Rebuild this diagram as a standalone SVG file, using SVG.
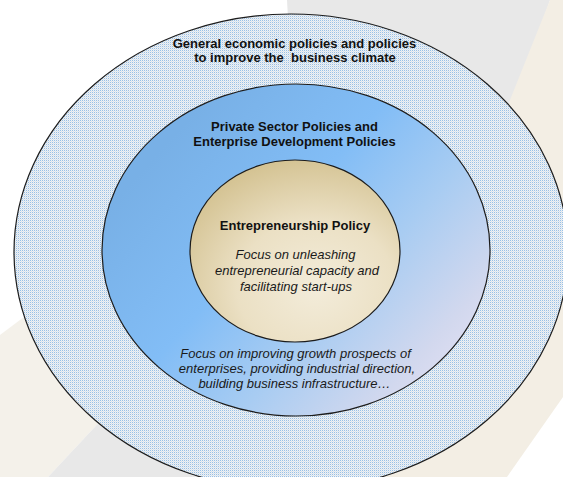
<svg xmlns="http://www.w3.org/2000/svg" width="563" height="477" viewBox="0 0 563 477">
  <defs>
    <style>
      .ring { stroke: #1c1c1c; stroke-width: 1.2; }
      .head { font-family: "Liberation Sans", Arial, sans-serif; font-size: 13px; font-weight: bold; fill: #111; text-anchor: middle; }
      .note { font-family: "Liberation Sans", Arial, sans-serif; font-size: 13px; font-style: italic; fill: #1a1a1a; text-anchor: middle; }
    </style>
    <!-- fine blue dot dither used by the outer ring -->
    <pattern id="grid" width="2" height="2" patternUnits="userSpaceOnUse">
      <rect width="2" height="2" fill="#eff1f3"/>
      <rect x="0" y="0" width="1" height="1" fill="#98c0e6"/>
      <rect x="1" y="1" width="1" height="1" fill="#d8e3ee"/>
    </pattern>
    <linearGradient id="blueFill" x1="0.15" y1="0.2" x2="1" y2="0.85">
      <stop offset="0" stop-color="#78b0e6"/>
      <stop offset="0.35" stop-color="#82bdf6"/>
      <stop offset="0.6" stop-color="#a8ccf2"/>
      <stop offset="0.85" stop-color="#d2d8ee"/>
      <stop offset="1" stop-color="#e6e2f4"/>
    </linearGradient>
    <radialGradient id="tanFill" cx="0.6" cy="0.7" r="0.75">
      <stop offset="0" stop-color="#f3ecda"/>
      <stop offset="0.5" stop-color="#ebe0c4"/>
      <stop offset="1" stop-color="#d2c08e"/>
    </radialGradient>
  </defs>

  <!-- backdrop swooshes -->
  <g id="backdrop">
    <rect width="563" height="477" fill="#ffffff"/>
    <polygon points="287,0 550,0 470,240 300,240" fill="#e8e8e8"/>
    <polygon points="550,0 563,0 563,397 507,477 380,477 470,200" fill="#f3eee4"/>
    <polygon points="0,335 60,290 150,300 120,400 48,477 0,477" fill="#f4f1ea"/>
    <polygon points="48,477 120,400 300,300 380,477" fill="#e8e8e8"/>
  </g>

  <g id="outer-ring">
    <ellipse class="ring" cx="291" cy="252" rx="277" ry="238" fill="url(#grid)"/>
    <text class="head" x="294.5" y="47.5">General economic policies and policies</text>
    <text class="head" x="295" y="62" style="white-space:pre">to improve the  business climate</text>
  </g>

  <g id="middle-ring">
    <ellipse class="ring" cx="296" cy="250" rx="194" ry="166" fill="url(#blueFill)"/>
    <text class="head" x="294.5" y="130.5">Private Sector Policies and</text>
    <text class="head" x="294.5" y="146">Enterprise Development Policies</text>
    <text class="note" x="295.5" y="358.3">Focus on improving growth prospects of</text>
    <text class="note" x="297" y="373.3">enterprises, providing industrial direction,</text>
    <text class="note" x="294.5" y="388.3">building business infrastructure…</text>
  </g>

  <g id="inner-core">
    <ellipse class="ring" cx="295" cy="251" rx="105" ry="91" fill="url(#tanFill)"/>
    <text class="head" x="295" y="229.5">Entrepreneurship Policy</text>
    <text class="note" x="295.5" y="258.5">Focus on unleashing</text>
    <text class="note" x="297" y="274.5">entrepreneurial capacity and</text>
    <text class="note" x="296" y="290.5">facilitating start-ups</text>
  </g>
</svg>
